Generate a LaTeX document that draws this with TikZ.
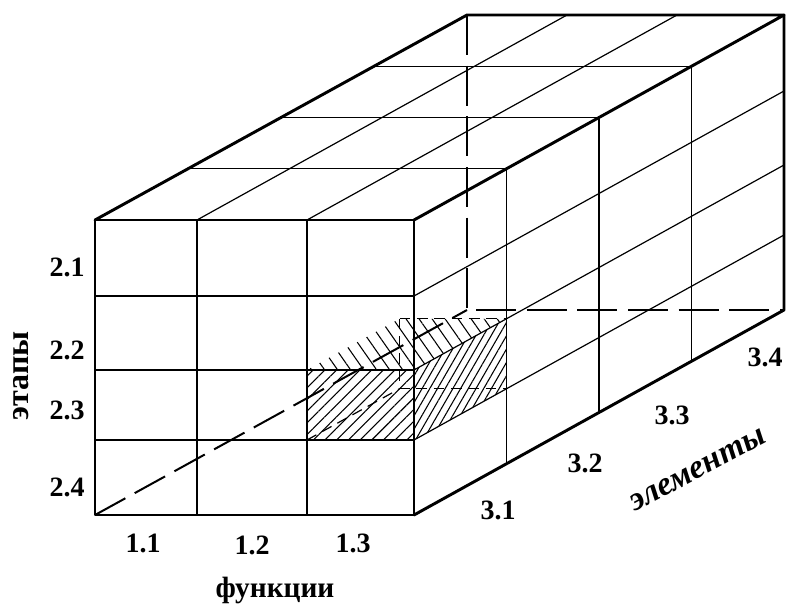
\documentclass[tikz,border=0pt]{standalone}
\usepackage{fontspec}
\setmainfont{Liberation Serif}
\usepackage{tikz}
\usetikzlibrary{calc, patterns, patterns.meta}
\tikzset{
  edge/.style={line width=2.2pt, line cap=round, line join=round},
  gridline/.style={line width=0.9pt},
  backedge/.style={line width=2.2pt, dash pattern=on 30pt off 8pt},
  hiddenedge/.style={line width=1.5pt, dash pattern=on 26pt off 8pt},
  hiddenline/.style={line width=0.9pt, dash pattern=on 8pt off 5pt},
  hatchfront/.style={pattern={Lines[angle=45, distance=6.2pt, line width=0.8pt]}},
  hatchtop/.style={pattern={Lines[angle=-55, distance=8pt, line width=0.8pt]}},
  hatchside/.style={pattern={Lines[angle=60, distance=5pt, line width=0.8pt]}},
  numlabel/.style={font=\fontsize{21}{24}\selectfont\bfseries, inner sep=1pt},
  axislabel/.style={font=\fontsize{24}{26}\selectfont\bfseries, inner sep=1pt}
}

\begin{document}
\begin{tikzpicture}[x=0.75pt, y=-0.75pt]
  \useasboundingbox (0,0) rectangle (787,613);

  % box corners
  \coordinate (ftl) at (95,220);
  \coordinate (ftr) at (414,220);
  \coordinate (fbr) at (414,515);
  \coordinate (fbl) at (95,515);
  \coordinate (btl) at (467,15);
  \coordinate (btr) at (784,15);
  \coordinate (bbr) at (784,310);
  \coordinate (bbl) at (467,310);

  % hatched cell 1.3 / 2.3 / 3.1
  \fill[hatchfront] (307,370) rectangle (414,440);
  \fill[hatchtop] (307,370) -- (414,370) -- (506.5,318.75) -- (399.5,318.75) -- cycle;
  \fill[hatchside] (414,370) -- (506.5,318.75) -- (506.5,388.75) -- (414,440) -- cycle;
  \draw[hiddenline] (399.5,318.75) -- (506.5,318.75);
  \draw[hiddenline] (399.5,318.75) -- (399.5,388.75) -- (506.5,388.75);
  \draw[hiddenline] (307,440) -- (399.5,388.75);

  % front grid
  \foreach \x in {197,307}
    \draw[gridline] (\x,220) -- (\x,515);
  \foreach \y in {296,370,440}
    \draw[gridline] (95,\y) -- (414,\y);

  % top and right grid
  \foreach \x in {197,307}
    \draw[gridline] (\x,220) -- ++(370,-205);
  \foreach \d in {0.25,0.5,0.75}
    \draw[gridline] ($(ftl)+\d*(370,-205)$) -- ++(319,0) -- ++(0,295);
  \foreach \y in {296,370,440}
    \draw[gridline] (414,\y) -- ++(370,-205);

  % hidden edges
  \draw[hiddenedge] (fbl) -- (bbl);
  \draw[backedge] (btl) -- (bbl) -- (bbr);

  % outline
  \draw[edge] (ftl) rectangle (fbr);
  \draw[edge] (ftl) -- (btl) -- (btr) -- (ftr);
  \draw[edge] (btr) -- (bbr) -- (fbr);

  % labels
  \node[numlabel] (s1) at (67,267) {2.1};
  \node[numlabel] (s2) at (67,350) {2.2};
  \node[numlabel] (s3) at (67,410) {2.3};
  \node[numlabel] (s4) at (67,487) {2.4};
  \node[axislabel, rotate=90] (stages) at (21,376) {этапы};

  \node[numlabel] (f1) at (143,543) {1.1};
  \node[numlabel] (f2) at (252,545) {1.2};
  \node[numlabel] (f3) at (353,543) {1.3};
  \node[axislabel, font=\fontsize{22}{24}\selectfont\bfseries] (funcs) at (275,590) {функции};

  \node[numlabel] (e1) at (498,510) {3.1};
  \node[numlabel] (e2) at (585,463) {3.2};
  \node[numlabel] (e3) at (672,415) {3.3};
  \node[numlabel] (e4) at (765,357) {3.4};
  \node[axislabel, font=\fontsize{25}{27}\selectfont\bfseries\itshape, rotate=28] (elems) at (698,470) {элементы};
\end{tikzpicture}
\end{document}
